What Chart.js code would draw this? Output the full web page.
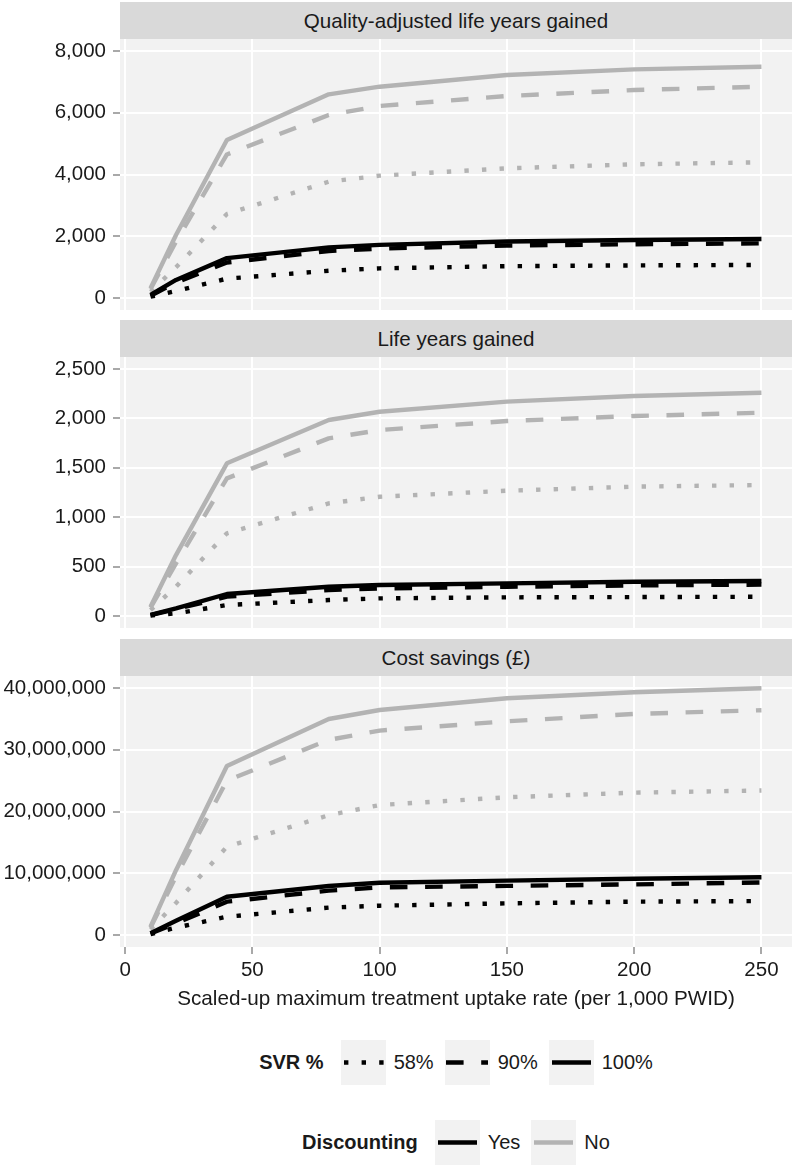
<!DOCTYPE html>
<html>
<head>
<meta charset="utf-8">
<script src="https://cdn.jsdelivr.net/npm/chart.js@4/dist/chart.umd.min.js"></script>
<style>
  body { margin: 0; width: 793px; height: 1169px; position: relative; background: #fff;
         font-family: 'Liberation Sans', Arial, sans-serif; color: #1a1a1a; overflow: hidden; }
  canvas { position: absolute; left: 0; }
  .strip { position: absolute; left: 120px; width: 672px; height: 37px; line-height: 37px;
           background: #d9d9d9; text-align: center; font-size: 20.6px; }
  .legend { position: absolute; left: 120px; width: 672px; height: 45px; display: flex;
            justify-content: center; align-items: center; font-size: 20px; }
  .legend b { margin-right: 17px; }
  .key { width: 45px; height: 45px; background: #f2f2f2; }
  .key svg { display: block; }
  .lab { margin-left: 8px; margin-right: 11px; }
  .lab.last { margin-right: 0; }
</style>
</head>
<body>
<div class="strip" style="top:2px">Quality-adjusted life years gained</div>
<canvas id="qalyChart" width="793" height="271" style="top:39px"></canvas>
<div class="strip" style="top:320px">Life years gained</div>
<canvas id="lyChart" width="793" height="271" style="top:357px"></canvas>
<div class="strip" style="top:639px">Cost savings (£)</div>
<canvas id="costChart" width="793" height="336" style="top:676px"></canvas>

<div class="legend" style="top:1040px">
  <b>SVR %</b>
  <div class="key"><svg width="45" height="45"><line x1="3" y1="22.5" x2="43" y2="22.5" stroke="#000" stroke-width="4.4" stroke-dasharray="4.4 13.2"/></svg></div>
  <span class="lab">58%</span>
  <div class="key"><svg width="45" height="45"><line x1="1" y1="22.5" x2="43" y2="22.5" stroke="#000" stroke-width="4.4" stroke-dasharray="17.6 17.6"/></svg></div>
  <span class="lab">90%</span>
  <div class="key"><svg width="45" height="45"><line x1="3" y1="22.5" x2="42" y2="22.5" stroke="#000" stroke-width="4.4"/></svg></div>
  <span class="lab last">100%</span>
</div>
<div class="legend" style="top:1120px">
  <b>Discounting</b>
  <div class="key"><svg width="45" height="45"><line x1="3" y1="22.5" x2="42" y2="22.5" stroke="#000" stroke-width="4.4"/></svg></div>
  <span class="lab">Yes</span>
  <div class="key"><svg width="45" height="45"><line x1="3" y1="22.5" x2="42" y2="22.5" stroke="#b3b3b3" stroke-width="4.4"/></svg></div>
  <span class="lab last">No</span>
</div>

<script>
// ─── Data ─────────────────────────────────────────────────────────────────────
const uptake = [10, 20, 40, 80, 100, 150, 200, 250];
const xTicks = [0, 50, 100, 150, 200, 250];

// Quality-adjusted life years gained
const qalyYes100 = [97, 583, 1290, 1640, 1720, 1830, 1880, 1910];
const qalyYes90  = [70, 500, 1150, 1520, 1600, 1700, 1740, 1770];
const qalyYes58  = [40, 227, 626, 880, 960, 1030, 1055, 1070];
const qalyNo100  = [320, 2040, 5118, 6597, 6845, 7223, 7407, 7492];
const qalyNo90   = [290, 1825, 4650, 5927, 6219, 6543, 6737, 6845];
const qalyNo58   = [200, 994, 2720, 3768, 3962, 4201, 4330, 4395];

// Life years gained
const lyYes100 = [12, 78, 223, 297, 314, 331, 347, 354];
const lyYes90  = [10, 70, 196, 263, 280, 296, 310, 318];
const lyYes58  = [6, 27, 111, 162, 179, 189, 192, 195];
const lyNo100  = [94, 617, 1545, 1984, 2067, 2169, 2226, 2260];
const lyNo90   = [85, 533, 1393, 1798, 1882, 1973, 2024, 2057];
const lyNo58   = [60, 297, 837, 1140, 1207, 1268, 1309, 1326];

// Cost savings (£)
const costYes100 = [300000, 2300000, 6200000, 7940000, 8470000, 8800000, 9100000, 9350000];
const costYes90  = [250000, 1900000, 5400000, 7180000, 7720000, 7950000, 8200000, 8500000];
const costYes58  = [150000, 1200000, 2970000, 4430000, 4750000, 5130000, 5400000, 5500000];
const costNo100  = [1350000, 10500000, 27370000, 34980000, 36440000, 38330000, 39300000, 39950000];
const costNo90   = [1200000, 9500000, 25000000, 31600000, 33100000, 34600000, 35800000, 36400000];
const costNo58   = [900000, 5200000, 14300000, 19400000, 21050000, 22300000, 23050000, 23400000];

// ─── Styles ───────────────────────────────────────────────────────────────────
const LW = 4.4;
const BLACK = '#000000';
const GREY = '#b3b3b3';
const DOTTED = [LW, LW * 3];
const DASHED = [LW * 4, LW * 4];

Chart.defaults.font.family = "'Liberation Sans', Arial, sans-serif";
Chart.defaults.font.size = 20.5;
Chart.defaults.color = '#1a1a1a';

const panelBg = {
  id: 'panelBg',
  beforeDraw(chart) {
    const { ctx, chartArea: a } = chart;
    ctx.save();
    ctx.fillStyle = '#f2f2f2';
    ctx.fillRect(a.left, a.top, a.right - a.left, a.bottom - a.top);
    ctx.restore();
  }
};

function line(data, color, dash) {
  return {
    data: uptake.map((x, i) => ({ x, y: data[i] })),
    borderColor: color, borderWidth: LW, borderDash: dash,
    borderCapStyle: 'butt', borderJoinStyle: 'round',
    pointRadius: 0, tension: 0, fill: false
  };
}

// no auto padding from tick labels: the panel fills its canvas exactly
function noPad(sc) {
  sc.paddingTop = 0; sc.paddingBottom = 0; sc.paddingLeft = 0; sc.paddingRight = 0;
}

function makePanel(id, s, yMin, yMax, step, showX) {
  const canvas = document.getElementById(id);
  return new Chart(canvas, {
    type: 'line',
    data: {
      datasets: [
        line(s[0], BLACK, []), line(s[1], BLACK, DASHED), line(s[2], BLACK, DOTTED),
        line(s[3], GREY, []), line(s[4], GREY, DASHED), line(s[5], GREY, DOTTED)
      ]
    },
    plugins: [panelBg],
    options: {
      responsive: false, animation: false, devicePixelRatio: 1, events: [],
      layout: { autoPadding: false, padding: { left: 0, right: 1, top: 0, bottom: 0 } },
      plugins: { legend: { display: false }, tooltip: { enabled: false } },
      scales: {
        x: {
          type: 'linear', min: -2, max: 262,
          afterBuildTicks: sc => { sc.ticks = xTicks.map(v => ({ value: v })); },
          afterFit: sc => { sc.height = showX ? 65 : 0; noPad(sc); },
          grid: { color: '#ffffff', lineWidth: 2, drawTicks: showX, tickLength: 7, tickColor: '#8c8c8c', tickWidth: 1.5 },
          border: { display: false },
          ticks: { display: showX, padding: 4, color: '#1a1a1a', maxRotation: 0 },
          title: {
            display: showX, text: 'Scaled-up maximum treatment uptake rate (per 1,000 PWID)',
            color: '#1a1a1a', font: { size: 20.7 }, padding: { top: 0, bottom: 0 }
          }
        },
        y: {
          type: 'linear', min: yMin, max: yMax,
          afterBuildTicks: sc => {
            const t = [];
            for (let v = 0; v <= yMax; v += step) t.push({ value: v });
            sc.ticks = t;
          },
          afterFit: sc => { sc.width = 120; noPad(sc); },
          grid: { color: '#ffffff', lineWidth: 2, tickLength: 7, tickColor: '#8c8c8c', tickWidth: 1.5 },
          border: { display: false },
          ticks: { padding: 7, color: '#1a1a1a', callback: v => v.toLocaleString('en-US') }
        }
      }
    }
  });
}

makePanel('qalyChart', [qalyYes100, qalyYes90, qalyYes58, qalyNo100, qalyNo90, qalyNo58], -390, 8390, 2000, false);
makePanel('lyChart', [lyYes100, lyYes90, lyYes58, lyNo100, lyNo90, lyNo58], -121, 2621, 500, false);
makePanel('costChart', [costYes100, costYes90, costYes58, costNo100, costNo90, costNo58], -1940000, 41940000, 10000000, true);
</script>
</body>
</html>
